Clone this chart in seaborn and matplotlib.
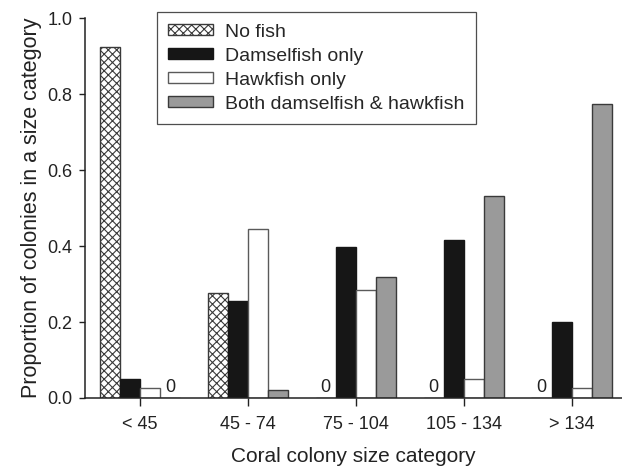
import matplotlib
matplotlib.use("Agg")
import matplotlib.pyplot as plt
import seaborn as sns
import pandas as pd

categories = ["< 45", "45 - 74", "75 - 104", "105 - 134", "> 134"]
series = ["No fish", "Damselfish only", "Hawkfish only", "Both damselfish & hawkfish"]
no_fish = [0.925, 0.276, 0.0, 0.0, 0.0]
damselfish = [0.049, 0.256, 0.398, 0.416, 0.200]
hawkfish = [0.025, 0.446, 0.284, 0.051, 0.025]
both = [0.0, 0.021, 0.318, 0.532, 0.774]
yticks = [0.0, 0.2, 0.4, 0.6, 0.8, 1.0]

rows = []
for name, vals in zip(series, [no_fish, damselfish, hawkfish, both]):
    for c, v in zip(categories, vals):
        rows.append({"cat": c, "series": name, "value": v})
df = pd.DataFrame(rows)

sns.set_style("ticks")
plt.rcParams["font.family"] = ["Liberation Sans", "DejaVu Sans"]
plt.rcParams["hatch.linewidth"] = 0.8

fig = plt.figure(figsize=(6.22, 4.67), dpi=100)
ax = fig.add_axes([0.1367, 0.1478, 0.8633, 0.8130])

sns.barplot(data=df, x="cat", y="value", hue="series", order=categories,
            hue_order=series, width=0.745, ax=ax, legend=False, errorbar=None)

styles = [
    dict(facecolor="white", edgecolor="#3a3a3a", hatch="xxxx"),
    dict(facecolor="#161616", edgecolor="#161616", hatch=None),
    dict(facecolor="white", edgecolor="#5a5a5a", hatch=None),
    dict(facecolor="#9a9a9a", edgecolor="#3a3a3a", hatch=None),
]
for cont, st, vals in zip(ax.containers, styles, [no_fish, damselfish, hawkfish, both]):
    for p, v in zip(cont.patches, vals):
        p.set_facecolor(st["facecolor"])
        p.set_edgecolor(st["edgecolor"])
        p.set_linewidth(1.0)
        if st["hatch"]:
            p.set_hatch(st["hatch"])
        if v == 0:
            ax.text(p.get_x() + p.get_width() / 2, 0.006, "0", ha="center",
                    va="bottom", fontsize=13, color="#222222")

leg = ax.legend(ax.containers, series, loc="upper left",
                bbox_to_anchor=(0.1335, 1.017), frameon=True, fancybox=False,
                fontsize=14, handlelength=2.3, handleheight=0.55,
                handletextpad=0.6, labelspacing=0.36, borderpad=0.6,
                borderaxespad=0)
leg.get_frame().set_edgecolor("#222222")
leg.get_frame().set_linewidth(0.9)

ax.set_xlim(-0.51, 4.467)
ax.set_ylim(0, 1.0)
ax.set_yticks(yticks)
ax.set_yticklabels([f"{t:.1f}" for t in yticks])
ax.tick_params(axis="both", labelsize=13, colors="#222222", width=1.0, direction="out")
ax.tick_params(axis="y", length=4, pad=5)
ax.tick_params(axis="x", length=6, pad=7)
ax.set_xlabel("Coral colony size category", fontsize=15, labelpad=10, color="#222222")
ax.set_ylabel("Proportion of colonies in a size category", fontsize=15.5, labelpad=4, color="#222222")
sns.despine(ax=ax)
for s in ["left", "bottom"]:
    ax.spines[s].set_linewidth(1.1)
    ax.spines[s].set_color("#222222")

fig.savefig("out.png", dpi=100)
